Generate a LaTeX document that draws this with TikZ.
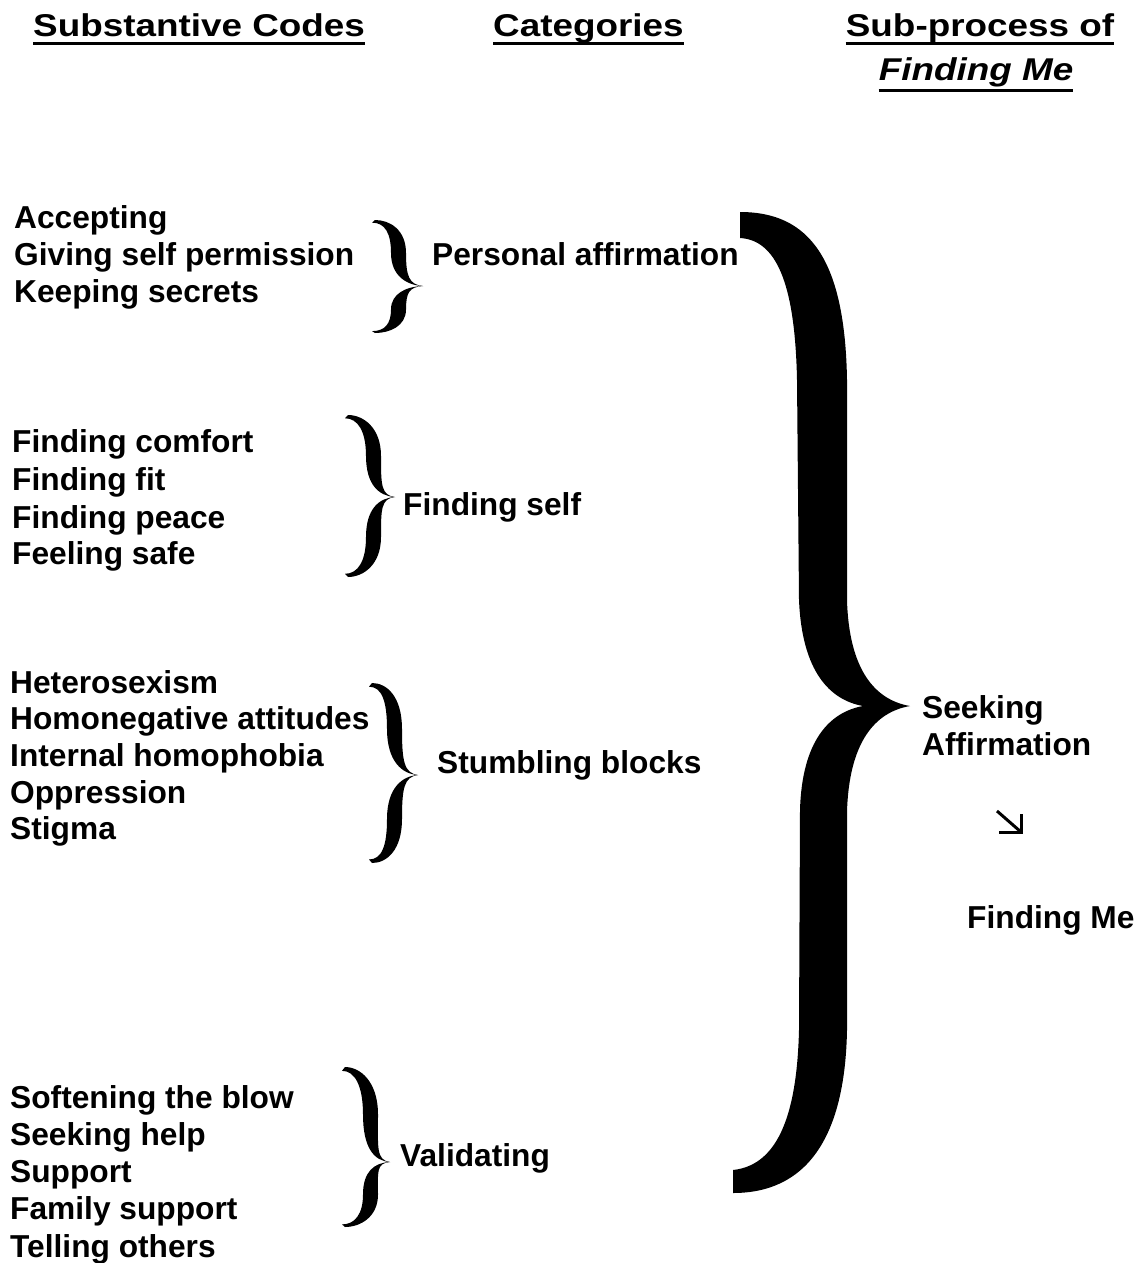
\documentclass[tikz,border=0pt]{standalone}
\usepackage{fontspec}
\setmainfont{Liberation Sans}
\newfontfamily\headfont[FakeStretch=1.17]{Liberation Sans}
\usetikzlibrary{positioning}

% one brace of the code column: end x, body offset, tip offset, top y, tip y, bottom y
\newcommand{\codebrace}[6]{%
  \fill[shift={(#1,#5)},yscale=#5-#4] (0,-1) .. controls (15,-1) and (#2+8,-0.85) .. (#2+8,-0.5) .. controls (#2+8,-0.15) and (#3-14,-0.02) .. (#3,0) .. controls (#3-16,-0.01) and (#2-7,-0.15) .. (#2-7,-0.5) .. controls (#2-7,-0.8) and (10,-0.96) .. (-3,-0.96) -- cycle;
  \fill[shift={(#1,#5)},yscale=#5-#6] (0,-1) .. controls (15,-1) and (#2+8,-0.85) .. (#2+8,-0.5) .. controls (#2+8,-0.15) and (#3-14,-0.02) .. (#3,0) .. controls (#3-16,-0.01) and (#2-7,-0.15) .. (#2-7,-0.5) .. controls (#2-7,-0.8) and (10,-0.96) .. (-3,-0.96) -- cycle;
}

\begin{document}
\begin{tikzpicture}[x=1pt,y=-1pt,
  code/.style={font=\fontsize{31.7}{37}\selectfont\bfseries, anchor=base west, inner sep=0},
  head/.style={font=\fontsize{31.5}{37}\selectfont\headfont\bfseries, inner sep=0},
  rule/.style={line width=3pt}]
  \useasboundingbox (0,0) rectangle (1139,1263);
  % headings
  \node[head, anchor=base west] (subcodes) at (33,37) {Substantive Codes};
  \node[head, anchor=base west] (categories) at (493,37) {Categories};
  \node[head, anchor=base] (subprocess) at (980,37) {Sub-process of};
  \node[head, anchor=base] (findingmehead) at (976,81) {\itshape Finding Me};
  \draw[rule] ([yshift=-7pt]subcodes.base west) -- ([yshift=-7pt]subcodes.base east);
  \draw[rule] ([yshift=-7pt]categories.base west) -- ([yshift=-7pt]categories.base east);
  \draw[rule] ([yshift=-7pt]subprocess.base west) -- ([yshift=-7pt]subprocess.base east);
  \draw[rule] ([yshift=-9pt]findingmehead.base west) -- ([yshift=-9pt]findingmehead.base east);
  % substantive codes
  \node[code] (accepting) at (14,228) {Accepting};
  \node[code] (giving) at (14,265) {Giving self permission};
  \node[code] (keeping) at (14,302) {Keeping secrets};
  \node[code] (comfort) at (12,452) {Finding comfort};
  \node[code] (fit) at (12,490) {Finding fit};
  \node[code] (peace) at (12,528) {Finding peace};
  \node[code] (safe) at (12,564) {Feeling safe};
  \node[code] (hetero) at (10,693) {Heterosexism};
  \node[code] (homoneg) at (10,729) {Homonegative attitudes};
  \node[code] (internal) at (10,766) {Internal homophobia};
  \node[code] (oppression) at (10,803) {Oppression};
  \node[code] (stigma) at (10,839) {Stigma};
  \node[code] (softening) at (10,1108) {Softening the blow};
  \node[code] (help) at (10,1145) {Seeking help};
  \node[code] (support) at (10,1182) {Support};
  \node[code] (family) at (10,1219) {Family support};
  \node[code] (telling) at (10,1257) {Telling others};
  % categories
  \codebrace{375}{23}{48}{220}{286}{333}
  \codebrace{348}{25}{47}{415}{497}{577}
  \codebrace{372}{22}{46}{683}{775}{863}
  \codebrace{345}{25}{45}{1067}{1162}{1227}
  \node[code] (personal) at (432,265) {Personal affirmation};
  \node[code] (findself) at (403,515) {Finding self};
  \node[code] (stumbling) at (437,773) {Stumbling blocks};
  \node[code] (validating) at (400,1166) {Validating};
  % sub-process
  \fill (740,212) .. controls (810,212) and (845,260) .. (847,380)
    -- (847,600) .. controls (849,670) and (875,700) .. (910,706)
    .. controls (875,712) and (849,742) .. (847,812)
    -- (847,1030) .. controls (845,1140) and (805,1193) .. (733,1193)
    -- (733,1170) .. controls (780,1165) and (797,1110) .. (799,1030)
    -- (800,810) .. controls (802,740) and (830,712) .. (863,706)
    .. controls (830,700) and (802,672) .. (799,600)
    -- (797,380) .. controls (795,280) and (775,240) .. (740,238) -- cycle;
  \node[code] (seeking) at (922,718) {Seeking};
  \node[code] (affirmation) at (922,755) {Affirmation};
  \draw[rule] (997,811) -- (1021,832);
  \draw[rule] (1021,814) -- (1021,832) -- (999,832);
  \node[code] (findingme) at (967,928) {Finding Me};
\end{tikzpicture}
\end{document}
